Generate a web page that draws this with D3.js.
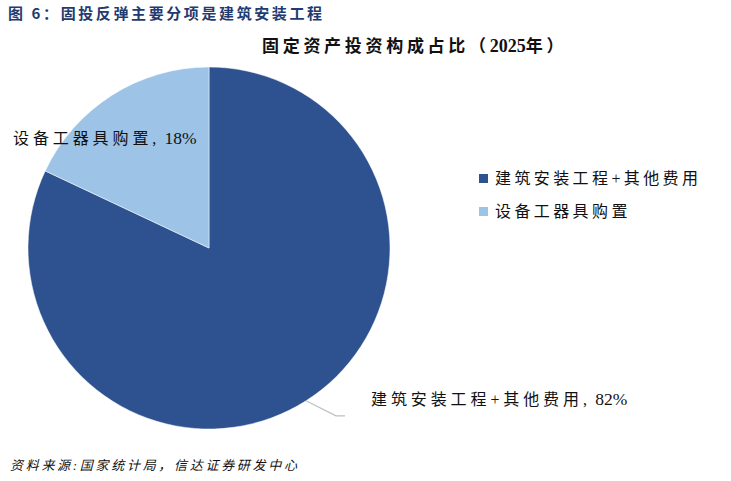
<!DOCTYPE html>
<html><head><meta charset="utf-8">
<script src="https://cdn.jsdelivr.net/npm/d3@7"></script>
<style>body{margin:0;background:#fff}svg{display:block}</style>
</head><body><svg id="c" width="731" height="481"></svg>
<script>
const categories = ["建筑安装工程+其他费用", "设备工器具购置"];
const values = [82, 18];
const colors = ["#2E5190", "#9DC3E6"];
const figTitle = "图 6：固投反弹主要分项是建筑安装工程";
const chartTitleParts = ["固定资产投资构成占比（", "2025", "年）"];
const source = "资料来源:国家统计局，信达证券研发中心";

const svg = d3.select("#c");
const FONT = "'Liberation Serif','Noto Sans CJK SC',serif";
const cx = 209, cy = 248, R = 181;

svg.append("text").attr("x", 8).attr("y", 19).text(figTitle)
  .attr("font-family", "'Noto Sans CJK SC',sans-serif").attr("font-weight", "bold")
  .attr("font-size", 15).attr("letter-spacing", 2.6).attr("fill", "#1F3B70");

const tt = svg.append("text").attr("x", 262).attr("y", 52)
  .attr("font-family", FONT).attr("font-weight", "bold").attr("font-size", 17).attr("fill", "#111");
tt.append("tspan").attr("letter-spacing", 3.7).text(chartTitleParts[0]);
tt.append("tspan").attr("font-size", 18).text(chartTitleParts[1]);
tt.append("tspan").attr("letter-spacing", 3.7).text(chartTitleParts[2]);

const data = categories.map((c, i) => ({cat: c, value: values[i], color: colors[i]}));
const pie = d3.pie().sort(null).value(d => d.value);
const arcs = pie(data);
const arc = d3.arc().innerRadius(0).outerRadius(R);
const g = svg.append("g").attr("transform", `translate(${cx},${cy})`);
g.selectAll("path").data(arcs).join("path").attr("d", arc).attr("fill", d => d.data.color)
  .attr("stroke", "#fff").attr("stroke-width", 0.5);

function label(sel, d) {
  sel.append("tspan").attr("letter-spacing", 3.9).text(d.cat + ",");
  sel.append("tspan").attr("font-size", 17.5).text(" " + d.value + "%");
}

// leader line for first slice
const a0 = arcs[0];
const mid0 = (a0.startAngle + a0.endAngle) / 2;
const p0 = [R * Math.sin(mid0), -R * Math.cos(mid0)];
const p1 = [p0[0] + 30, p0[1] + 15];
const p2 = [p1[0] + 9, p1[1]];
g.append("polyline").attr("points", [p0, p1, p2].map(p => p.join(",")).join(" "))
  .attr("fill", "none").attr("stroke", "#BFBFBF").attr("stroke-width", 1.2);
g.append("text").attr("x", p2[0] + 26).attr("y", p1[1] - 11)
  .attr("font-family", FONT).attr("font-size", 16).attr("fill", "#111").call(label, data[0]);

// label inside second slice
g.append("text").attr("x", -196).attr("y", -104)
  .attr("font-family", FONT).attr("font-size", 16).attr("fill", "#111").call(label, data[1]);

// legend
const lg = svg.append("g").attr("transform", "translate(479,174)");
const items = lg.selectAll("g").data(data).join("g").attr("transform", (d, i) => `translate(0,${i * 33})`);
items.append("rect").attr("width", 9).attr("height", 9).attr("fill", d => d.color);
items.append("text").attr("x", 16).attr("y", 10).text(d => d.cat)
  .attr("font-family", FONT).attr("font-size", 16).attr("letter-spacing", 3.4).attr("fill", "#111");

svg.append("text").attr("x", 10).attr("y", 470).text(source)
  .attr("font-family", FONT).attr("font-style", "italic").attr("font-size", 13)
  .attr("letter-spacing", 2.7).attr("fill", "#111");
</script></body></html>
